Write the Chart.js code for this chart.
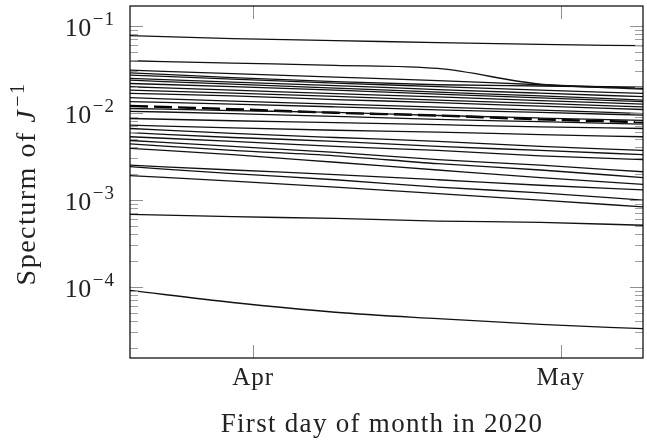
<!DOCTYPE html>
<html>
<head>
<meta charset="utf-8">
<script src="https://cdn.jsdelivr.net/npm/chart.js@4.4.1/dist/chart.umd.min.js"></script>
<style>
  html, body { margin: 0; padding: 0; background: #fff; }
  #chart { display: block; }
</style>
</head>
<body>
<canvas id="chart" width="647" height="440"></canvas>
<script>
// days counted from 1 March 2020 (Apr 1 = 31, May 1 = 61)
const days = [19, 29, 39, 49, 59, 69];

// one row per eigenvalue of J^-1 at each of the days above
const spectrum = [
  [0.077, 0.071, 0.0675, 0.064, 0.061, 0.059],
  [0.0396, 0.0372, 0.0351, 0.0323, 0.0213, 0.0187],
  [0.0309, 0.0282, 0.0257, 0.0234, 0.0210, 0.0191],
  [0.0288, 0.0254, 0.0228, 0.0210, 0.0203, 0.0197],
  [0.0271, 0.0244, 0.0219, 0.0200, 0.0182, 0.0167],
  [0.0248, 0.0225, 0.0205, 0.0185, 0.0168, 0.0153],
  [0.0237, 0.0213, 0.0192, 0.0173, 0.0156, 0.0140],
  [0.0217, 0.0200, 0.0182, 0.0164, 0.0148, 0.0134],
  [0.0199, 0.0182, 0.0166, 0.0152, 0.0138, 0.0126],
  [0.0182, 0.0168, 0.0154, 0.0140, 0.0128, 0.0117],
  [0.0167, 0.0156, 0.0142, 0.0131, 0.0119, 0.0109],
  [0.0149, 0.0136, 0.0126, 0.0116, 0.0107, 0.0098],
  [0.0134, 0.0126, 0.0117, 0.0108, 0.0101, 0.0094],
  [0.0112, 0.0106, 0.0101, 0.0093, 0.0087, 0.0082],
  [0.0104, 0.0098, 0.0091, 0.0084, 0.0079, 0.0074],
  [0.0086, 0.0081, 0.0077, 0.0073, 0.0069, 0.0066],
  [0.0072, 0.0067, 0.0063, 0.0060, 0.0056, 0.0053],
  [0.0066, 0.0058, 0.0052, 0.0047, 0.0041, 0.0037],
  [0.0059, 0.0052, 0.0047, 0.0041, 0.0037, 0.0033],
  [0.0053, 0.0047, 0.0041, 0.0037, 0.0032, 0.0029],
  [0.0048, 0.0041, 0.0035, 0.0029, 0.0025, 0.0021],
  [0.0044, 0.0037, 0.0032, 0.0026, 0.0022, 0.0018],
  [0.0039, 0.0033, 0.0027, 0.0022, 0.0018, 0.0015],
  [0.0025, 0.0022, 0.00195, 0.0017, 0.00147, 0.0013],
  [0.0024, 0.0020, 0.0017, 0.0014, 0.0012, 0.00099],
  [0.0019, 0.00164, 0.0014, 0.00118, 0.00099, 0.00083],
  [0.00068, 0.00064, 0.00061, 0.00057, 0.00055, 0.00051],
  [9.1e-5, 6.6e-5, 5.1e-5, 4.3e-5, 3.7e-5, 3.3e-5]
];

// the thick dashed line
const meanSpectrum = [0.0120, 0.0110, 0.0100, 0.0093, 0.0084, 0.0078];

const xTickDays = [31, 61];
const xTickLabels = ['Apr', 'May'];
const yTickExponents = [-4, -3, -2, -1];

const SERIF = '"Liberation Serif", "DejaVu Serif", serif';

function toPoints(values) {
  return values.map((v, i) => ({ x: days[i], y: v }));
}

const datasets = spectrum.map(row => ({
  data: toPoints(row),
  borderColor: '#111',
  borderWidth: 1.3,
  pointRadius: 0,
  cubicInterpolationMode: 'monotone',
  fill: false
}));
datasets.push({
  data: toPoints(meanSpectrum),
  borderColor: '#000',
  borderWidth: 2.4,
  borderDash: [18, 6],
  pointRadius: 0,
  cubicInterpolationMode: 'monotone',
  fill: false
});

// pgfplots-like frame, inward ticks and labels
const axisPlugin = {
  id: 'pgfAxis',
  afterDatasetsDraw(chart) {
    const ctx = chart.ctx;
    const area = chart.chartArea;
    const xs = chart.scales.x, ys = chart.scales.y;

    function seg(x1, y1, x2, y2) {
      ctx.beginPath();
      ctx.moveTo(x1, y1);
      ctx.lineTo(x2, y2);
      ctx.stroke();
    }

    ctx.save();
    ctx.lineWidth = 1;

    // minor ticks on the log axis
    ctx.strokeStyle = '#a0a0a0';
    for (let e = -5; e <= -1; e++) {
      for (let m = 2; m <= 9; m++) {
        const v = m * Math.pow(10, e);
        if (v < ys.min || v > ys.max) continue;
        const y = Math.round(ys.getPixelForValue(v)) + 0.5;
        seg(area.left, y, area.left + 8, y);
        seg(area.right - 8, y, area.right, y);
      }
    }
    // major ticks
    ctx.strokeStyle = '#909090';
    yTickExponents.forEach(e => {
      const y = Math.round(ys.getPixelForValue(Math.pow(10, e))) + 0.5;
      seg(area.left, y, area.left + 13, y);
      seg(area.right - 13, y, area.right, y);
    });
    xTickDays.forEach(d => {
      const x = Math.round(xs.getPixelForValue(d)) + 0.5;
      seg(x, area.bottom, x, area.bottom - 13);
      seg(x, area.top, x, area.top + 13);
    });

    // frame
    ctx.strokeStyle = '#000';
    ctx.lineWidth = 1.2;
    ctx.strokeRect(area.left, area.top, area.right - area.left, area.bottom - area.top);
    ctx.restore();
  },
  afterDraw(chart) {
    const ctx = chart.ctx;
    const area = chart.chartArea;
    const xs = chart.scales.x, ys = chart.scales.y;
    ctx.save();
    ctx.fillStyle = '#222';
    ctx.textBaseline = 'alphabetic';

    // y tick labels 10^e
    yTickExponents.forEach(e => {
      const y = ys.getPixelForValue(Math.pow(10, e));
      const expText = '\u2212' + Math.abs(e);
      ctx.font = '19px ' + SERIF;
      ctx.letterSpacing = '1px';
      const expW = ctx.measureText(expText).width;
      const expLeft = area.left - 15 - expW;
      ctx.textAlign = 'left';
      ctx.fillText(expText, expLeft, y - 0.5);
      ctx.font = '26px ' + SERIF;
      ctx.letterSpacing = '0.5px';
      ctx.textAlign = 'right';
      ctx.fillText('10', expLeft - 1, y + 10.5);
    });

    // x tick labels
    ctx.font = '25px ' + SERIF;
    ctx.textAlign = 'center';
    ctx.letterSpacing = '1px';
    xTickDays.forEach((d, i) => {
      ctx.fillText(xTickLabels[i], xs.getPixelForValue(d), 385);
    });

    // x axis title
    ctx.font = '27px ' + SERIF;
    ctx.letterSpacing = '1.3px';
    ctx.fillText('First day of month in 2020', 382, 432);

    // y axis title, rotated, with italic J and superscript
    ctx.translate(35, 185);
    ctx.rotate(-Math.PI / 2);
    ctx.letterSpacing = '1.5px';
    const parts = [
      { t: 'Specturm of ', f: '28px ' + SERIF, dy: 0 },
      { t: 'J', f: 'italic 28px ' + SERIF, dy: 0 },
      { t: '\u22121', f: '20px ' + SERIF, dy: -11 }
    ];
    let total = 0;
    parts.forEach(p => { ctx.font = p.f; p.w = ctx.measureText(p.t).width; total += p.w; });
    let x = -total / 2;
    ctx.textAlign = 'left';
    parts.forEach(p => {
      ctx.font = p.f;
      ctx.fillText(p.t, x, p.dy);
      x += p.w + (p.t === 'J' ? 2 : 0);
    });
    ctx.restore();
  }
};

new Chart(document.getElementById('chart'), {
  type: 'line',
  data: { datasets },
  options: {
    responsive: false,
    animation: false,
    devicePixelRatio: 1,
    layout: { padding: { left: 0, right: 4, top: 6, bottom: 0 } },
    plugins: { legend: { display: false }, tooltip: { enabled: false } },
    scales: {
      x: {
        type: 'linear', min: 19, max: 69,
        grid: { display: false }, border: { display: false },
        ticks: { display: false },
        afterFit(s) { s.height = 82; }
      },
      y: {
        type: 'logarithmic', min: 1.52e-5, max: 0.1687,
        grid: { display: false }, border: { display: false },
        ticks: { display: false },
        afterFit(s) { s.width = 130; }
      }
    }
  },
  plugins: [axisPlugin]
});
</script>
</body>
</html>
